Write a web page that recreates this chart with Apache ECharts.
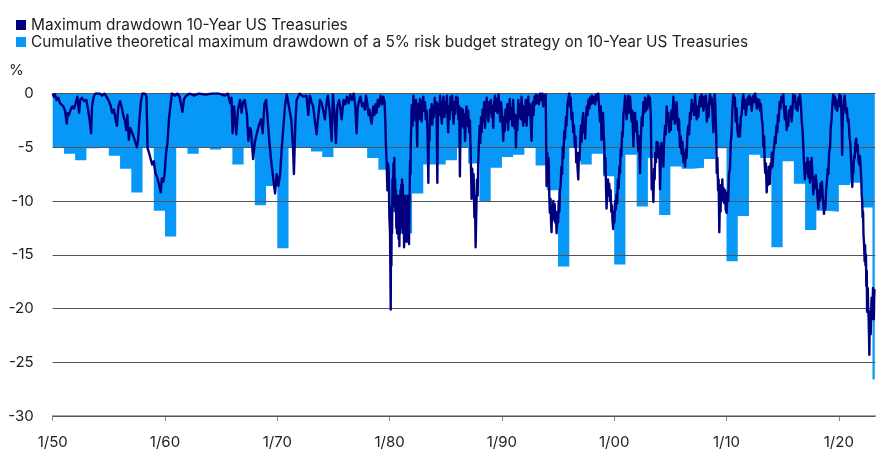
<!DOCTYPE html>
<html><head><meta charset="utf-8">
<script src="https://cdn.jsdelivr.net/npm/echarts@6/dist/echarts.min.js"></script>
<style>html,body{margin:0;padding:0;background:#fff}#c{width:886px;height:450px}</style>
</head><body><div id="c"></div>
<script>
const seriesNames = ['Maximum drawdown 10-Year US Treasuries',
  'Cumulative theoretical maximum drawdown of a 5% risk budget strategy on 10-Year US Treasuries'];
const unitLabel = '%';
const xMin = 1950, xMax = 2023.25;
const xTickYears = [1950, 1960, 1970, 1980, 1990, 2000, 2010, 2020];
const yMin = -30, yMax = 0, yStep = 5;

// annual cumulative theoretical max drawdown (step per calendar year, 1950..2023)
const blueStartYear = 1950;
const blueValues = [
  -5.0, -5.6, -6.2, -5.1, -5.0, -5.8, -7.0, -9.2, -5.0, -10.9,
  -13.3, -5.0, -5.6, -5.0, -5.2, -5.0, -6.6, -5.0, -10.4, -8.6,
  -14.4, -5.0, -5.0, -5.4, -5.9, -5.0, -5.0, -5.0, -6.0, -7.1,
  -11.0, -13.0, -9.3, -6.6, -6.6, -6.2, -5.0, -6.5, -10.1, -6.9,
  -5.9, -5.7, -5.0, -6.7, -9.0, -16.1, -5.0, -6.6, -5.6, -7.7,
  -15.9, -5.7, -10.5, -6.0, -11.3, -6.8, -7.0, -6.9, -6.1, -5.1,
  -15.6, -11.4, -5.7, -6.0, -14.3, -6.3, -8.4, -12.7, -10.9, -11.0,
  -8.5, -8.3, -10.6, -26.6
];
const blueEndYear = 2023.2;

// maximum drawdown of 10-year US Treasuries [year, %]
const navyPoints = [
[1950.00,0],[1950.10,-0.3],[1950.20,-0.1],[1950.35,-0.6],[1950.50,-0.4],[1950.65,-0.9],[1950.80,-0.8],[1950.95,-1.2],
[1951.10,-1.6],[1951.25,-2.8],[1951.35,-1.8],[1951.45,-2.0],[1951.60,-1.5],[1951.75,-1.2],[1951.90,-1.4],
[1952.05,-0.9],[1952.20,-0.3],[1952.35,-1.8],[1952.45,-0.6],[1952.60,-0.4],[1952.80,-0.7],
[1953.00,-0.6],[1953.15,-1.5],[1953.30,-2.6],[1953.42,-3.7],[1953.50,-1.2],[1953.65,-0.3],[1953.80,0],
[1954.20,0],[1954.40,-0.2],[1954.60,0],[1954.80,-0.3],
[1955.00,-0.7],[1955.15,-1.1],[1955.30,-1.8],[1955.45,-1.5],[1955.60,-2.4],[1955.72,-3.0],[1955.85,-1.2],
[1956.00,-0.7],[1956.15,-1.3],[1956.30,-2.1],[1956.45,-2.6],[1956.55,-3.4],[1956.65,-2.0],[1956.78,-4.3],[1956.90,-3.2],
[1957.05,-3.6],[1957.20,-4.0],[1957.35,-3.9],[1957.50,-5.0],[1957.60,-4.3],[1957.72,-2.5],[1957.85,-0.8],
[1958.00,0],[1958.20,0],[1958.35,-0.3],[1958.45,-5.1],[1958.55,-5.4],[1958.70,-6.0],[1958.85,-6.6],
[1959.00,-6.3],[1959.15,-7.4],[1959.30,-7.8],[1959.45,-8.4],[1959.62,-9.2],[1959.72,-7.9],[1959.85,-8.2],[1959.95,-7.6],
[1960.10,-5.5],[1960.22,-4.6],[1960.35,-2.4],[1960.50,-1.0],[1960.62,0],[1960.90,-0.2],
[1961.10,0],[1961.30,-0.3],[1961.55,-1.7],[1961.70,-0.5],[1961.90,-0.2],
[1962.20,0],[1962.60,-0.2],[1963.00,0],[1963.60,-0.1],[1964.20,0],[1964.80,0],
[1965.30,-0.2],[1965.60,0],[1965.80,-0.9],[1965.92,-0.4],
[1966.02,-3.7],[1966.15,-1.2],[1966.35,-3.8],[1966.50,-1.5],[1966.68,-0.6],[1966.82,-1.8],[1966.95,-0.8],
[1967.10,-0.6],[1967.30,-2.0],[1967.42,-4.4],[1967.55,-3.2],[1967.65,-3.4],[1967.85,-6.1],
[1968.00,-4.5],[1968.15,-4.6],[1968.35,-3.0],[1968.55,-2.4],[1968.70,-3.7],[1968.85,-1.0],
[1969.00,-0.6],[1969.10,-1.8],[1969.30,-4.6],[1969.50,-6.7],[1969.65,-8.0],[1969.80,-9.3],[1969.95,-7.5],
[1970.10,-8.6],[1970.25,-7.5],[1970.40,-5.0],[1970.55,-3.0],[1970.70,-1.0],[1970.85,-0.1],
[1971.00,0],[1971.25,-2.5],[1971.40,-5.0],[1971.48,-7.5],[1971.60,-3.0],[1971.72,-0.6],
[1972.00,0],[1972.30,-0.3],[1972.60,-0.2],[1972.76,-2.0],[1972.90,-0.2],
[1973.05,-0.8],[1973.20,-1.2],[1973.35,-2.6],[1973.50,-3.8],[1973.62,-2.4],[1973.80,-0.6],[1973.95,-0.9],
[1974.10,-1.6],[1974.24,-2.4],[1974.40,-0.8],[1974.50,-0.2],[1974.65,-1.5],[1974.84,-4.4],[1974.95,-0.1],
[1975.10,-1.8],[1975.22,-4.6],[1975.35,-1.2],[1975.50,-0.6],[1975.62,-1.4],[1975.73,-2.4],[1975.90,-0.6],
[1976.05,-1.0],[1976.20,-0.3],[1976.35,-0.9],[1976.50,-0.1],[1976.65,-0.6],[1976.80,0],[1976.95,-1.2],
[1977.06,-3.7],[1977.15,-1.5],[1977.25,-0.8],[1977.40,-0.3],[1977.55,-1.2],[1977.66,-0.9],[1977.80,-1.5],[1977.90,-0.2],
[1978.00,-0.8],[1978.12,-2.0],[1978.20,-1.5],[1978.32,-2.4],[1978.40,-2.8],[1978.50,-1.6],[1978.55,-1.2],[1978.65,-2.0],[1978.75,-1.0],[1978.84,-1.8],[1978.95,-0.6],
[1979.05,-1.2],[1979.20,-0.2],[1979.32,-1.0],[1979.44,-0.3],[1979.55,-0.8],[1979.62,-2.6],[1979.68,-5.0],[1979.74,-6.4],[1979.80,-9.0],[1979.86,-6.5],[1979.92,-7.2],[1979.98,-11.5],
[1980.04,-13.0],[1980.10,-20.1],[1980.13,-12.0],[1980.16,-16.0],[1980.19,-10.5],[1980.22,-13.0],[1980.26,-8.0],[1980.30,-9.5],[1980.34,-6.5],
[1980.38,-9.0],[1980.42,-6.0],[1980.46,-10.5],[1980.50,-8.0],[1980.53,-11.0],[1980.56,-9.0],[1980.60,-12.5],[1980.63,-10.0],[1980.66,-13.0],
[1980.70,-10.5],[1980.73,-12.0],[1980.76,-9.5],[1980.80,-13.5],[1980.84,-10.0],[1980.87,-14.2],[1980.90,-11.0],[1980.94,-13.0],[1980.97,-9.0],
[1981.00,-11.5],[1981.04,-8.5],[1981.07,-12.5],[1981.11,-8.0],[1981.15,-10.5],[1981.18,-8.5],[1981.22,-13.0],[1981.26,-10.0],[1981.29,-14.3],
[1981.33,-11.0],[1981.37,-12.5],[1981.40,-9.5],[1981.44,-13.0],[1981.48,-10.5],[1981.51,-13.8],[1981.55,-11.0],[1981.59,-12.5],[1981.63,-9.5],
[1981.67,-12.0],[1981.70,-10.0],[1981.73,-14.0],[1981.76,-11.0],[1981.79,-9.0],[1981.82,-6.3],[1981.86,-7.5],[1981.89,-4.5],[1981.93,-3.0],[1981.97,-1.1],
[1982.05,-3.0],[1982.09,-1.2],[1982.12,-0.2],[1982.18,-2.2],[1982.25,-1.0],[1982.30,-2.5],[1982.35,-0.6],[1982.41,-2.8],[1982.46,-4.9],[1982.50,-2.0],[1982.55,-1.0],[1982.62,-2.4],[1982.70,-0.5],[1982.78,-1.8],[1982.85,-2.6],[1982.92,-0.8],
[1983.00,-0.3],[1983.07,-1.6],[1983.15,-0.8],[1983.22,-2.4],[1983.30,-1.6],[1983.38,-3.5],[1983.45,-8.3],[1983.50,-3.0],[1983.55,-4.4],[1983.60,-1.5],[1983.68,-2.8],[1983.74,-1.0],[1983.80,-2.9],[1983.88,-1.2],[1983.95,-2.2],
[1984.02,-0.4],[1984.10,-1.8],[1984.18,-0.8],[1984.25,-8.3],[1984.30,-2.5],[1984.35,-1.0],[1984.42,-2.0],[1984.50,-0.2],[1984.57,-1.6],[1984.65,-2.8],[1984.72,-1.0],[1984.80,-0.3],[1984.88,-2.2],[1984.95,-0.8],
[1985.02,-1.8],[1985.10,-0.2],[1985.16,-2.0],[1985.22,-3.6],[1985.28,-1.2],[1985.35,-2.4],[1985.42,-0.3],[1985.50,-1.5],[1985.57,-0.2],[1985.64,-1.8],[1985.70,-2.8],[1985.78,-0.8],[1985.85,-1.9],[1985.92,-0.3],
[1986.00,-1.2],[1986.06,-0.4],[1986.13,-2.4],[1986.20,-1.2],[1986.26,-7.7],[1986.31,-3.2],[1986.38,-1.4],[1986.45,-3.0],[1986.52,-1.5],[1986.60,-3.2],[1986.66,-2.0],[1986.72,-4.4],[1986.78,-2.2],[1986.85,-1.2],[1986.92,-3.0],
[1987.00,-1.6],[1987.08,-3.6],[1987.15,-2.5],[1987.22,-5.5],[1987.30,-9.8],[1987.36,-7.0],[1987.42,-9.0],[1987.48,-7.5],[1987.55,-11.5],[1987.60,-9.5],[1987.66,-14.3],[1987.72,-11.0],[1987.78,-8.0],[1987.84,-9.5],[1987.90,-6.0],[1987.96,-4.5],
[1988.02,-3.0],[1988.08,-4.6],[1988.14,-2.2],[1988.20,-3.6],[1988.28,-1.5],[1988.35,-2.6],[1988.42,-0.8],[1988.50,-3.2],[1988.57,-1.5],[1988.65,-0.4],[1988.72,-2.0],[1988.80,-2.6],[1988.88,-0.8],[1988.95,-1.8],
[1989.02,-0.6],[1989.10,-2.2],[1989.17,-1.2],[1989.23,-3.2],[1989.30,-1.0],[1989.38,-0.2],[1989.45,-1.6],[1989.53,-0.5],[1989.60,-1.8],[1989.70,-0.1],[1989.78,-1.2],[1989.85,-2.6],[1989.92,-0.8],
[1990.00,-1.8],[1990.06,-3.0],[1990.12,-4.4],[1990.18,-2.2],[1990.25,-3.5],[1990.32,-1.5],[1990.42,-2.6],[1990.48,-1.0],[1990.55,-3.4],[1990.62,-1.6],[1990.70,-0.5],[1990.78,-2.4],[1990.85,-1.4],[1990.92,-3.0],
[1991.00,-0.6],[1991.06,-2.0],[1991.12,-3.2],[1991.20,-2.0],[1991.25,-5.0],[1991.30,-2.4],[1991.38,-3.4],[1991.46,-0.6],[1991.53,-2.2],[1991.60,-1.0],[1991.68,-2.4],[1991.75,-0.3],[1991.82,-1.8],[1991.90,-3.0],[1991.96,-1.2],
[1992.05,-2.6],[1992.12,-0.6],[1992.20,-3.0],[1992.28,-1.4],[1992.35,-0.3],[1992.42,-2.0],[1992.50,-1.0],[1992.57,-2.6],[1992.64,-4.4],[1992.70,-2.0],[1992.75,-0.8],[1992.82,-2.0],[1992.90,-0.3],[1992.96,-1.0],
[1993.05,-0.1],[1993.12,-0.9],[1993.20,-0.2],[1993.30,-1.0],[1993.40,0],[1993.50,-0.6],[1993.60,0],[1993.68,-1.2],[1993.76,-0.2],[1993.85,-0.8],[1993.90,-0.1],[1993.98,-8.6],
[1994.04,-5.5],[1994.10,-7.0],[1994.16,-6.0],[1994.22,-9.5],[1994.27,-11.1],[1994.33,-9.8],[1994.38,-12.0],[1994.42,-12.9],[1994.47,-10.5],[1994.52,-11.8],[1994.58,-10.0],[1994.63,-11.4],[1994.70,-10.3],[1994.75,-12.0],[1994.81,-11.0],[1994.87,-13.0],[1994.93,-11.5],
[1995.00,-12.0],[1995.06,-10.0],[1995.12,-11.0],[1995.17,-9.0],[1995.23,-8.5],[1995.30,-6.8],[1995.36,-7.5],[1995.42,-5.0],[1995.48,-6.0],[1995.55,-3.5],[1995.62,-4.2],[1995.70,-2.2],[1995.76,-3.0],[1995.84,-1.0],[1995.92,-0.5],
[1996.00,0],[1996.06,-1.2],[1996.12,-0.4],[1996.20,-2.4],[1996.28,-1.8],[1996.35,-3.6],[1996.42,-3.0],[1996.50,-5.0],[1996.56,-4.0],[1996.62,-6.4],[1996.68,-5.5],[1996.74,-7.0],[1996.80,-8.0],[1996.86,-5.5],[1996.92,-6.2],[1996.97,-4.5],
[1997.04,-3.0],[1997.10,-4.5],[1997.17,-2.5],[1997.24,-1.8],[1997.30,-3.6],[1997.36,-2.6],[1997.42,-4.2],[1997.50,-2.0],[1997.56,-1.2],[1997.63,-2.0],[1997.70,-0.6],[1997.78,-1.4],[1997.85,-0.4],[1997.92,-1.0],
[1998.00,-0.2],[1998.10,-0.9],[1998.20,-0.3],[1998.30,-1.0],[1998.40,-0.1],[1998.50,-0.6],[1998.58,0],[1998.66,-1.2],[1998.74,-2.6],[1998.80,-1.2],[1998.87,-4.3],[1998.94,-2.6],
[1999.00,-1.8],[1999.06,-3.6],[1999.12,-5.0],[1999.17,-7.4],[1999.22,-6.0],[1999.27,-8.6],[1999.32,-10.7],[1999.38,-8.8],[1999.45,-8.0],[1999.50,-9.5],[1999.56,-8.4],[1999.62,-10.0],[1999.68,-9.0],[1999.74,-11.0],[1999.80,-10.4],[1999.85,-11.8],[1999.91,-12.6],[1999.96,-11.0],
[2000.02,-12.0],[2000.08,-10.0],[2000.14,-10.8],[2000.21,-9.4],[2000.27,-10.2],[2000.33,-8.0],[2000.40,-8.8],[2000.46,-6.8],[2000.52,-7.4],[2000.58,-5.2],[2000.64,-5.8],[2000.70,-3.6],[2000.76,-4.0],[2000.82,-2.0],[2000.90,-1.2],[2000.97,-0.2],
[2001.03,-1.4],[2001.11,-2.4],[2001.18,-1.0],[2001.25,-0.2],[2001.32,-1.8],[2001.41,-0.3],[2001.48,-1.4],[2001.55,-2.6],[2001.62,-1.6],[2001.71,-4.9],[2001.77,-3.0],[2001.85,-1.8],[2001.92,-3.5],
[2002.00,-2.6],[2002.07,-4.0],[2002.15,-5.4],[2002.22,-4.0],[2002.30,-7.4],[2002.36,-4.5],[2002.45,-2.2],[2002.52,-3.0],[2002.60,-0.8],[2002.68,-1.8],[2002.75,-0.4],[2002.83,-1.6],[2002.90,-0.6],[2002.96,-1.4],
[2003.04,-0.2],[2003.10,-1.0],[2003.18,-0.4],[2003.26,-2.0],[2003.34,-8.9],[2003.40,-7.5],[2003.49,-10.1],[2003.55,-7.0],[2003.60,-8.0],[2003.66,-5.5],[2003.72,-6.4],[2003.78,-4.5],[2003.84,-5.8],[2003.90,-4.6],[2003.96,-6.0],
[2004.02,-5.0],[2004.08,-8.9],[2004.14,-6.4],[2004.20,-4.6],[2004.26,-6.0],[2004.32,-5.0],[2004.38,-6.8],[2004.44,-4.5],[2004.53,-3.0],[2004.60,-3.8],[2004.67,-1.2],[2004.74,-2.6],[2004.82,-1.8],[2004.90,-3.6],[2004.97,-2.6],
[2005.04,-3.4],[2005.10,-1.6],[2005.18,-2.4],[2005.27,-0.3],[2005.34,-1.5],[2005.40,-2.8],[2005.47,-1.5],[2005.56,-0.8],[2005.63,-2.4],[2005.70,-3.4],[2005.77,-2.4],[2005.86,-5.0],[2005.93,-4.0],
[2006.00,-5.6],[2006.07,-4.5],[2006.16,-6.4],[2006.22,-5.5],[2006.31,-6.8],[2006.38,-5.2],[2006.45,-6.0],[2006.52,-3.8],[2006.60,-3.0],[2006.67,-3.8],[2006.75,-1.8],[2006.82,-2.4],[2006.90,-0.6],[2006.97,-1.6],
[2007.05,-1.0],[2007.12,-2.0],[2007.20,-0.1],[2007.28,-1.4],[2007.35,-2.4],[2007.42,-1.2],[2007.49,-2.2],[2007.57,-1.0],[2007.65,-0.3],[2007.72,-1.2],[2007.79,-0.1],[2007.87,-0.8],[2007.95,-1.6],
[2008.02,-0.3],[2008.09,-1.2],[2008.17,-0.2],[2008.25,-2.6],[2008.32,-1.0],[2008.40,-2.2],[2008.46,-0.8],[2008.53,-0.1],[2008.60,-1.0],[2008.68,-0.4],[2008.75,-1.6],[2008.83,-3.6],[2008.90,-1.2],[2008.95,-0.1],
[2009.01,-1.2],[2009.05,-2.6],[2009.09,-4.0],[2009.13,-7.4],[2009.19,-6.0],[2009.25,-9.0],[2009.30,-8.0],[2009.36,-12.9],[2009.41,-10.0],[2009.47,-11.0],[2009.52,-8.5],[2009.57,-9.5],[2009.63,-8.0],[2009.68,-10.0],[2009.74,-8.8],[2009.80,-10.2],[2009.87,-9.0],[2009.93,-10.8],
[2010.02,-11.1],[2010.08,-9.2],[2010.15,-10.0],[2010.22,-7.5],[2010.31,-7.0],[2010.38,-4.5],[2010.45,-3.8],[2010.52,-1.5],[2010.61,-0.1],[2010.68,-1.0],[2010.75,-0.4],[2010.82,-2.6],[2010.91,-1.4],[2010.97,-3.4],
[2011.05,-4.0],[2011.12,-3.0],[2011.20,-4.0],[2011.27,-2.2],[2011.35,-2.0],[2011.42,-0.6],[2011.50,-0.1],[2011.57,-1.4],[2011.65,-0.6],[2011.72,-2.0],[2011.80,-1.2],[2011.88,-0.4],[2011.95,-1.0],
[2012.02,-0.2],[2012.09,-1.0],[2012.17,-0.4],[2012.25,-1.6],[2012.32,-0.8],[2012.40,-0.2],[2012.47,-0.8],[2012.55,0],[2012.62,-0.6],[2012.70,-1.4],[2012.77,-0.5],[2012.85,-1.2],[2012.92,-0.6],[2012.98,-1.6],
[2013.06,-1.0],[2013.15,-2.4],[2013.22,-3.0],[2013.28,-4.9],[2013.35,-4.0],[2013.40,-6.5],[2013.45,-7.4],[2013.51,-6.5],[2013.58,-9.2],[2013.64,-7.5],[2013.70,-8.5],[2013.76,-6.8],[2013.82,-7.8],[2013.87,-8.4],[2013.93,-6.5],[2013.98,-7.0],
[2014.04,-5.5],[2014.10,-6.8],[2014.17,-5.6],[2014.24,-5.0],[2014.32,-4.0],[2014.38,-4.6],[2014.45,-3.0],[2014.52,-3.6],[2014.58,-2.0],[2014.65,-2.6],[2014.72,-0.8],[2014.80,-1.4],[2014.88,-0.3],[2014.95,-0.8],
[2015.06,-0.1],[2015.12,-1.4],[2015.20,-2.4],[2015.28,-1.2],[2015.36,-3.4],[2015.43,-2.4],[2015.50,-3.0],[2015.57,-1.6],[2015.65,-2.0],[2015.72,-1.2],[2015.80,-2.6],[2015.88,-1.4],[2015.95,-0.1],
[2016.02,-0.8],[2016.10,-0.2],[2016.17,-1.4],[2016.25,-0.8],[2016.33,-1.6],[2016.40,-0.4],[2016.47,-1.0],[2016.54,-0.1],[2016.62,-1.0],[2016.70,-2.6],[2016.77,-3.4],[2016.84,-5.0],[2016.90,-6.4],[2016.98,-8.0],
[2017.05,-6.5],[2017.14,-7.4],[2017.22,-6.0],[2017.30,-7.8],[2017.37,-6.4],[2017.43,-8.3],[2017.50,-6.8],[2017.58,-6.0],[2017.65,-7.4],[2017.73,-9.4],[2017.80,-7.8],[2017.88,-8.8],[2017.95,-7.6],
[2018.03,-8.6],[2018.10,-9.6],[2018.18,-10.7],[2018.24,-9.0],[2018.30,-10.0],[2018.37,-8.4],[2018.44,-9.6],[2018.50,-8.2],[2018.58,-9.8],[2018.63,-10.4],[2018.68,-11.2],[2018.74,-10.0],[2018.80,-10.8],[2018.87,-9.0],[2018.95,-8.0],
[2019.02,-7.0],[2019.07,-7.5],[2019.14,-5.5],[2019.22,-5.0],[2019.28,-3.2],[2019.36,-2.4],[2019.43,-1.0],[2019.51,-0.1],[2019.58,-1.0],[2019.65,-0.3],[2019.72,-1.4],[2019.78,-0.6],[2019.85,-1.6],[2019.92,-0.8],
[2020.00,-1.2],[2020.05,-0.1],[2020.12,-0.9],[2020.18,-0.2],[2020.22,-0.1],[2020.26,-3.0],[2020.30,-5.7],[2020.34,-2.5],[2020.40,-1.6],[2020.46,-0.6],[2020.52,-0.2],[2020.58,-1.0],[2020.65,-1.8],[2020.72,-1.4],[2020.80,-2.6],[2020.87,-2.4],[2020.95,-4.0],
[2021.02,-4.6],[2021.08,-5.8],[2021.14,-7.2],[2021.20,-8.7],[2021.25,-7.0],[2021.30,-7.4],[2021.36,-5.8],[2021.42,-6.0],[2021.48,-4.6],[2021.55,-4.2],[2021.62,-5.4],[2021.68,-4.8],[2021.75,-6.2],[2021.82,-6.6],[2021.88,-5.8],[2021.95,-7.0],
[2022.00,-8.0],[2022.04,-9.4],[2022.08,-10.0],[2022.12,-11.5],[2022.16,-11.0],[2022.20,-13.2],[2022.25,-14.0],[2022.30,-15.6],[2022.34,-14.1],[2022.38,-16.0],[2022.42,-15.0],[2022.45,-17.9],[2022.49,-16.5],[2022.52,-20.3],
[2022.55,-19.0],[2022.58,-18.1],[2022.62,-20.0],[2022.66,-21.0],[2022.69,-22.5],[2022.72,-24.3],[2022.75,-21.5],[2022.78,-20.3],[2022.81,-22.0],[2022.84,-22.4],[2022.88,-20.5],[2022.92,-19.0],[2022.95,-21.0],[2022.98,-20.0],
[2023.02,-19.0],[2023.05,-18.1],[2023.09,-20.0],[2023.12,-21.0],[2023.15,-19.0],[2023.18,-18.2]
];

const colors = { navy: '#00007e', blue: '#0797f7', text: '#222222', grid: '#555555', axis: '#8a8a8a' };
const FONT = 'Inter, "Noto Sans", sans-serif';

const blueData = blueValues.map((v, i) => [blueStartYear + i, v]);
blueData.push([blueEndYear, blueValues[blueValues.length - 1]]);

const chart = echarts.init(document.getElementById('c'), null, { renderer: 'canvas' });
chart.setOption({
  animation: false,
  backgroundColor: '#ffffff',
  textStyle: { fontFamily: FONT },
  grid: { left: 52.7, right: 10.7, top: 93.5, bottom: 31, containLabel: false },
  legend: {
    orient: 'vertical', left: 11, top: 12, itemWidth: 10, itemHeight: 10, itemGap: 1,
    icon: 'rect',
    textStyle: { fontFamily: FONT, fontSize: 15.4, color: colors.text, lineHeight: 16 },
    data: [
      { name: seriesNames[0], itemStyle: { color: colors.navy } },
      { name: seriesNames[1], itemStyle: { color: colors.blue } }
    ]
  },
  graphic: [{ type: 'text', left: 9, top: 63, style: { text: unitLabel, font: '15px ' + FONT, fill: colors.text } }],
  xAxis: {
    type: 'value', min: xMin, max: xMax,
    axisLine: { show: true, onZero: false, lineStyle: { color: colors.axis, width: 1.5 } },
    axisTick: { show: true, customValues: xTickYears, length: 5, lineStyle: { color: colors.axis } },
    axisLabel: { customValues: xTickYears, margin: 19, fontSize: 15, color: colors.text, fontFamily: FONT,
      formatter: v => '1/' + String(Math.round(v)).slice(2) },
    splitLine: { show: false }
  },
  yAxis: {
    type: 'value', min: yMin, max: yMax, interval: yStep, z: 3,
    axisLine: { show: false }, axisTick: { show: false },
    axisLabel: { margin: 19, fontSize: 15, color: colors.text, fontFamily: FONT },
    splitLine: { show: true, lineStyle: { color: colors.grid, width: 1.2 } }
  },
  series: [
    {
      name: seriesNames[1], type: 'line', step: 'end', data: blueData, z: 1,
      symbol: 'none', showSymbol: false,
      lineStyle: { width: 0, color: colors.blue }, itemStyle: { color: colors.blue },
      areaStyle: { color: colors.blue, opacity: 1 }
    },
    {
      name: seriesNames[0], type: 'line', data: navyPoints, z: 5,
      symbol: 'none', showSymbol: false,
      lineStyle: { width: 2.4, color: colors.navy, join: 'round' }, itemStyle: { color: colors.navy }
    }
  ]
});
</script></body></html>
